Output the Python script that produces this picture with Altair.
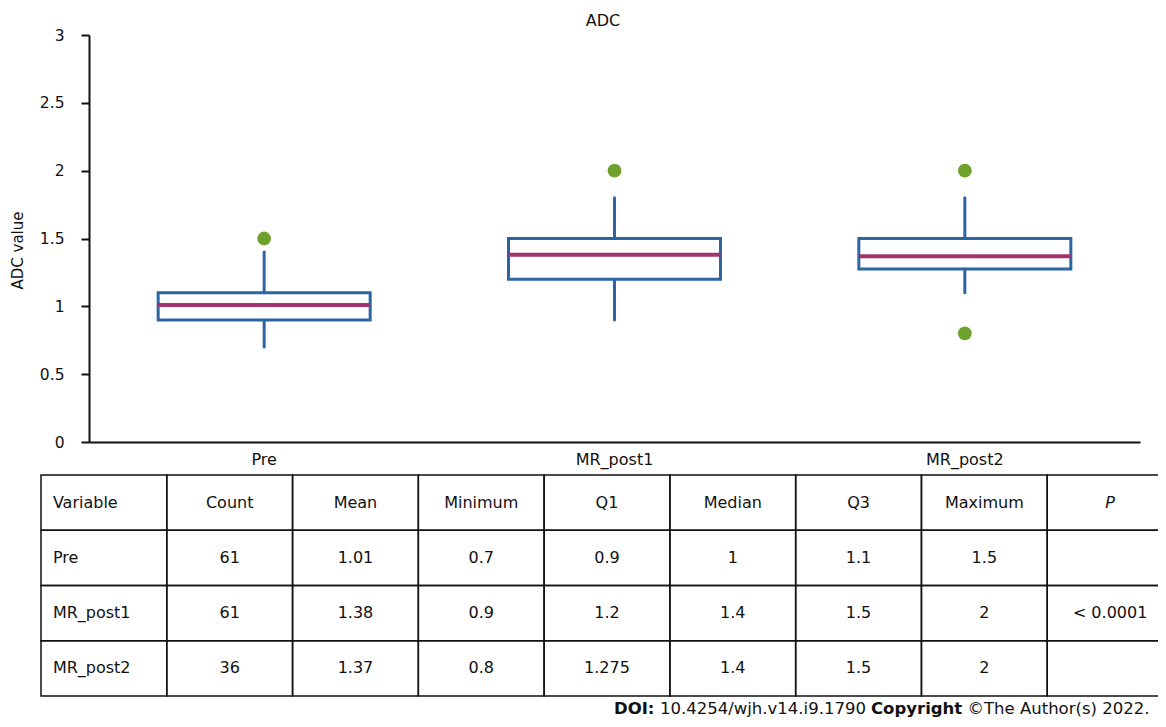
import altair as alt
import pandas as pd

# ---------------- data ----------------
groups = ["Pre", "MR_post1", "MR_post2"]
whisker_low = [0.7, 0.9, 1.1]
q1 = [0.9, 1.2, 1.275]
q3 = [1.1, 1.5, 1.5]
whisker_high = [1.4, 1.8, 1.8]
mean_line = [1.01, 1.38, 1.37]
outlier_groups = ["Pre", "MR_post1", "MR_post2", "MR_post2"]
outlier_values = [1.5, 2.0, 2.0, 0.8]
y_ticks = [0, 0.5, 1, 1.5, 2, 2.5, 3]

table_columns = ["Variable", "Count", "Mean", "Minimum", "Q1", "Median", "Q3", "Maximum", "P"]
table_counts = ["61", "61", "36"]
table_means = ["1.01", "1.38", "1.37"]
table_minimum = ["0.7", "0.9", "0.8"]
table_q1 = ["0.9", "1.2", "1.275"]
table_median = ["1", "1.4", "1.4"]
table_q3 = ["1.1", "1.5", "1.5"]
table_maximum = ["1.5", "2", "2"]
table_p = ["", "< 0.0001", ""]

chart_title = "ADC"
doi_parts = ["DOI:", "10.4254/wjh.v14.i9.1790", "Copyright", "\u00a9The Author(s) 2022."]
doi_bold = [True, False, True, False]

# ---------------- styling ----------------
FONT = "DejaVu Sans"
INK = "#111111"
BLUE = "#2d64a2"
MAGENTA = "#a2336c"
GREEN = "#6ea22c"
W, H = 1051, 407
PAD = {"left": 81, "top": 27, "right": 18, "bottom": 277}

box_df = pd.DataFrame({
    "group": groups, "lo": whisker_low, "q1": q1, "q3": q3,
    "hi": whisker_high, "mean": mean_line,
})
out_df = pd.DataFrame({"group": outlier_groups, "value": outlier_values})

xs = alt.Scale(domain=groups, paddingInner=0, paddingOuter=0)
ys = alt.Scale(domain=[0, 3], nice=False, zero=True)

x_axis = alt.Axis(title=None, ticks=False, labelAngle=0, labelFontSize=16,
                  labelFont=FONT, labelColor=INK, labelPadding=9,
                  domainColor=INK, domainWidth=2, grid=False)
y_axis = alt.Axis(values=y_ticks, format="~g", title="ADC value", grid=False,
                  labelFontSize=15.5, labelFont=FONT, labelColor=INK,
                  labelPadding=17, tickSize=8, tickWidth=2, tickColor=INK,
                  domainColor=INK, domainWidth=2, titleFont=FONT,
                  titleFontSize=15, titleFontWeight="normal", titleColor=INK,
                  titlePadding=14, titleY=215)

base = alt.Chart(box_df)
boxes = base.mark_bar(fill="white", stroke=BLUE, strokeWidth=3, size=212).encode(
    x=alt.X("group:N", scale=xs, axis=x_axis, sort=groups),
    y=alt.Y("q1:Q", scale=ys, axis=y_axis),
    y2="q3:Q",
)
wl = base.mark_rule(color=BLUE, strokeWidth=3, strokeCap="round").encode(
    x=alt.X("group:N", scale=xs, sort=groups), y=alt.Y("lo:Q", scale=ys), y2="q1:Q")
wh = base.mark_rule(color=BLUE, strokeWidth=3, strokeCap="round").encode(
    x=alt.X("group:N", scale=xs, sort=groups), y=alt.Y("q3:Q", scale=ys), y2="hi:Q")
mean_tick = base.mark_tick(color=MAGENTA, size=212, thickness=4, opacity=1).encode(
    x=alt.X("group:N", scale=xs, sort=groups), y=alt.Y("mean:Q", scale=ys))
outliers = alt.Chart(out_df).mark_point(filled=True, shape="circle", size=190,
                                        color=GREEN, opacity=1).encode(
    x=alt.X("group:N", scale=xs, sort=groups), y=alt.Y("value:Q", scale=ys))

box_layer = alt.layer(boxes, wl, wh, mean_tick, outliers)

# ---------------- table ----------------
row_keys = ["header"] + groups
cols_data = [groups, table_counts, table_means, table_minimum, table_q1,
             table_median, table_q3, table_maximum, table_p]
records = []
for ci, c in enumerate(table_columns):
    records.append({"col": c, "row": "header", "text": c,
                    "kind": "first" if ci == 0 else ("italic" if c == "P" else "center")})
for ri, g in enumerate(groups):
    for ci, c in enumerate(table_columns):
        records.append({"col": c, "row": g, "text": cols_data[ci][ri],
                        "kind": "first" if ci == 0 else "center"})
tab_df = pd.DataFrame(records)

txs = alt.Scale(domain=table_columns, range=[-48, 1084], paddingInner=0, paddingOuter=0)
tys = alt.Scale(domain=row_keys, range=[440, 661], paddingInner=0, paddingOuter=0)
tx = alt.X("col:N", scale=txs, axis=None, sort=table_columns)
ty = alt.Y("row:N", scale=tys, axis=None, sort=row_keys)

tb = alt.Chart(tab_df)
cells = tb.mark_rect(fill="white", fillOpacity=0, stroke=INK, strokeWidth=1.5).encode(x=tx, y=ty)
t_center = tb.transform_filter(alt.datum.kind == "center").mark_text(
    font=FONT, fontSize=16, color=INK).encode(x=tx, y=ty, text="text:N")
t_first = tb.transform_filter(alt.datum.kind == "first").mark_text(
    font=FONT, fontSize=16, color=INK, align="left", dx=-51).encode(x=tx, y=ty, text="text:N")
t_italic = tb.transform_filter(alt.datum.kind == "italic").mark_text(
    font=FONT, fontSize=16, color=INK, fontStyle="italic").encode(x=tx, y=ty, text="text:N")
table_layer = alt.layer(cells, t_center, t_first, t_italic)

# ---------------- title & DOI footer ----------------
title_mark = alt.Chart(pd.DataFrame({"t": [chart_title]})).mark_text(
    font=FONT, fontSize=16, color=INK, align="center", baseline="middle").encode(
    x=alt.value(514), y=alt.value(-14), text="t:N")

doi_x = [525, 571, 782, 878.5]
doi_layers = []
for txt, bold, xv in zip(doi_parts, doi_bold, doi_x):
    doi_layers.append(
        alt.Chart(pd.DataFrame({"t": [txt]})).mark_text(
            font=FONT, fontSize=16.5, color=INK, align="left", baseline="alphabetic",
            fontWeight="bold" if bold else "normal").encode(
            x=alt.value(xv), y=alt.value(679), text="t:N"))

chart = alt.layer(box_layer, table_layer, title_mark, *doi_layers).resolve_scale(
    x="independent", y="independent"
).properties(
    width=W, height=H,
    autosize=alt.AutoSizeParams(type="none"),
    padding=PAD,
    background="white",
).configure_view(strokeWidth=0, stroke="transparent")

chart.save("out.html", embed_options={"renderer": "svg", "actions": False})
